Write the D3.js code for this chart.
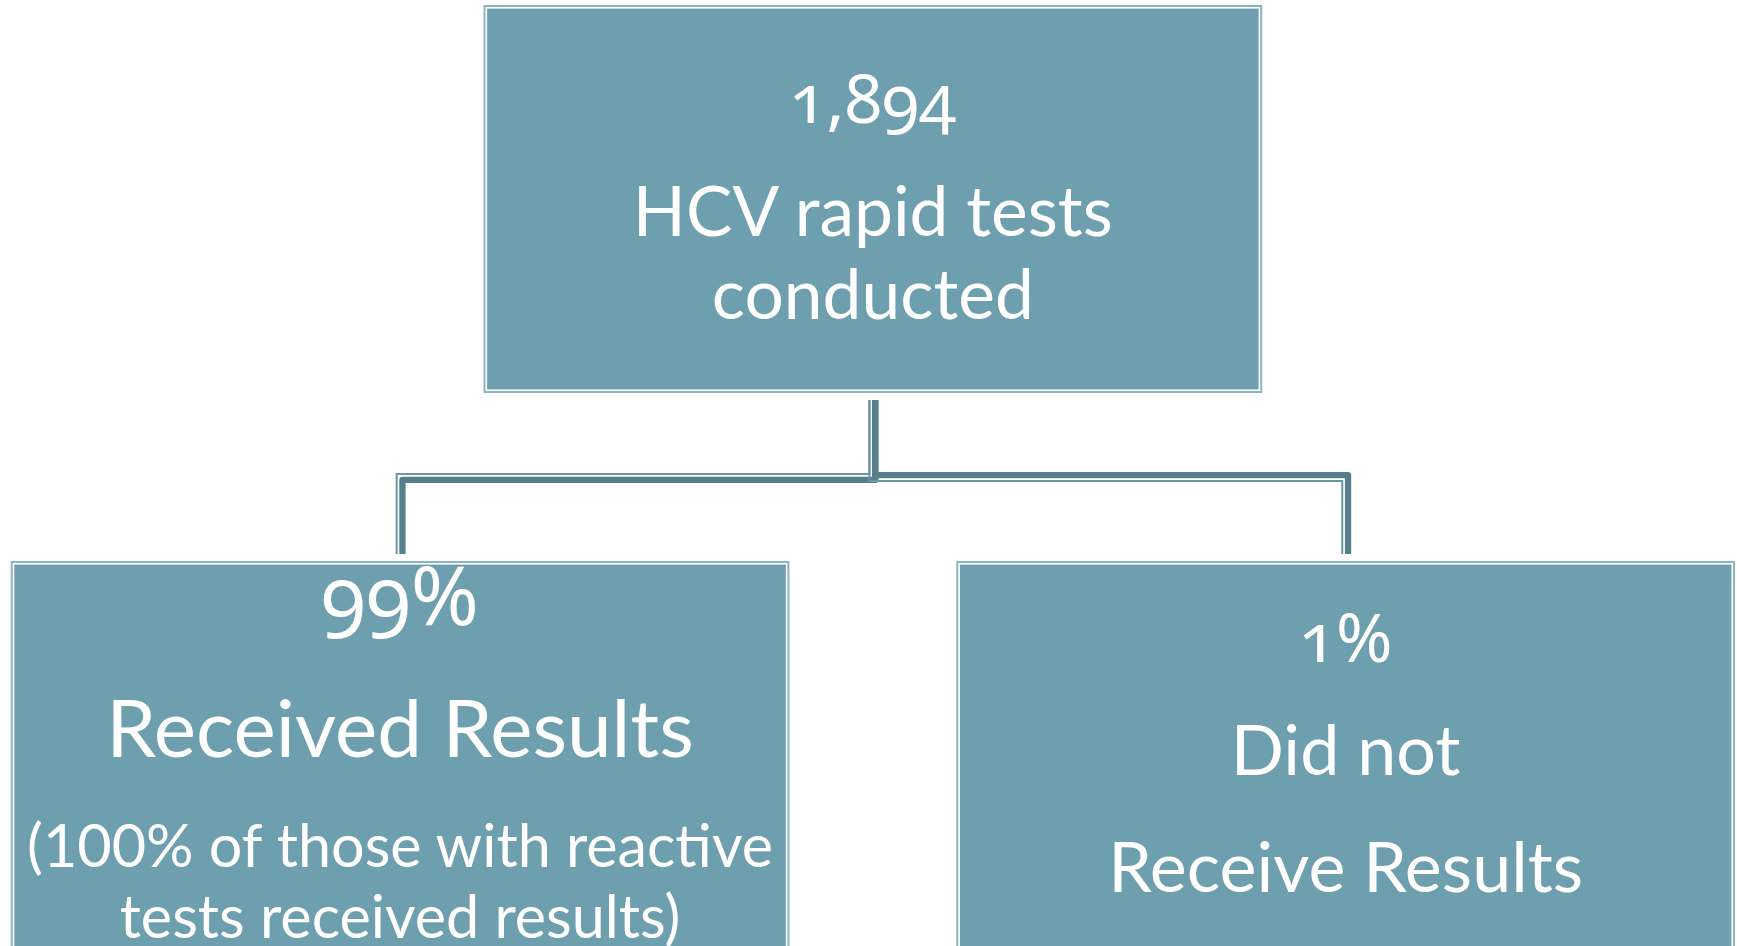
<!DOCTYPE html>
<html>
<head>
<meta charset="utf-8">
<script src="https://cdn.jsdelivr.net/npm/d3@7"></script>
<style>
  html, body { margin: 0; padding: 0; background: #fff; overflow: hidden; }
  svg { display: block; }
  text { font-family: Lato, "Open Sans", sans-serif; fill: #fff; }
  text.head { font-family: "Noto Sans", Lato, sans-serif; font-feature-settings: "onum" 1; font-variant-numeric: oldstyle-nums; }
</style>
</head>
<body>
<svg id="chart"></svg>
<script>
// org chart data
const nodeIds = ["root", "received", "notReceived"];
const parentIds = [null, "root", "root"];
const headlines = ["1,894", "99%", "1%"];
const titles = [["HCV rapid tests", "conducted"], ["Received Results"], ["Did not", "Receive Results"]];
const notes = [[], ["(100% of those with reactive", "tests received results)"], []];

const width = 1737;
const height = 946;
const fill = "#6e9fae";
const edge = "#8ab5c3";
const thick = "#567f8b";
const thin = "#6a95a3";

// text layout per node: [baseline offset from box top, font size]
const headStyle = [[118, 68], [64, 82], [101, 68]];
const titleStyle = [[231, 83, 69.5], [196, 0, 80], [214, 117, 70]];
const noteStyle = [[0, 0, 0], [306, 71, 59.3], [0, 0, 0]];

const svg = d3.select("#chart").attr("width", width).attr("height", height);

const root = d3.stratify()
  .id((d, i) => nodeIds[i])
  .parentId((d, i) => parentIds[i])(nodeIds.map((id, i) => ({ i })));

const leaves = root.leaves();
const x = d3.scaleBand()
  .domain(leaves.map(d => d.id))
  .range([10.7, 1735])
  .paddingInner(0.1765)
  .paddingOuter(0);

const level = d3.scaleOrdinal().domain([0, 1]).range([5, 561]);
const boxH = d3.scaleOrdinal().domain([0, 1]).range([388, 420]);
const boxW = x.bandwidth();

root.each(d => {
  if (d.children) d.cx = d3.mean(d.children, c => x(c.id) + boxW / 2);
  else d.cx = x(d.id) + boxW / 2;
  d.x0 = d.cx - boxW / 2;
  d.y0 = level(d.depth);
  d.h = boxH(d.depth);
});

// connectors: compound line, thin on the right of travel, thick on the left
const busY = 477.5;
function offsetPts(pts, dist) {
  const dirs = d3.pairs(pts).map(([a, b]) => {
    const dx = Math.sign(b[0] - a[0]), dy = Math.sign(b[1] - a[1]);
    return [-dy, dx];
  });
  return pts.map((p, i) => {
    const n1 = dirs[Math.max(0, i - 1)];
    const n2 = dirs[Math.min(dirs.length - 1, i)];
    const n = i === 0 ? n2 : i === pts.length - 1 ? n1 : [n1[0] + n2[0], n1[1] + n2[1]];
    return [p[0] + n[0] * dist, p[1] + n[1] * dist];
  });
}
const line = d3.line();
const links = svg.append("g").attr("fill", "none");
root.links().forEach(({ source, target }) => {
  const pts = [
    [source.cx, source.y0 + source.h + 7],
    [source.cx, busY],
    [target.cx, busY],
    [target.cx, target.y0 - 7]
  ];
  links.append("path")
    .attr("d", line(offsetPts(pts, -2.4)))
    .attr("stroke", thick)
    .attr("stroke-width", 6.3)
    .attr("stroke-linejoin", "round");
  links.append("path")
    .attr("d", line(offsetPts(pts, 3.4)))
    .attr("stroke", thin)
    .attr("stroke-width", 2);
});

// boxes
const node = svg.append("g").selectAll("g")
  .data(root.descendants())
  .join("g")
  .attr("transform", d => `translate(${d.x0},${d.y0})`);

node.append("rect")
  .attr("x", 1).attr("y", 1)
  .attr("width", boxW - 2).attr("height", d => d.h - 2)
  .attr("fill", "#fff")
  .attr("stroke", edge)
  .attr("stroke-width", 2);

node.append("rect")
  .attr("x", 3.6).attr("y", 3.6)
  .attr("width", boxW - 7.2).attr("height", d => d.h - 7.2)
  .attr("fill", fill);

node.append("text")
  .attr("class", "head")
  .attr("text-anchor", "middle")
  .attr("x", boxW / 2)
  .attr("y", d => headStyle[d.data.i][0])
  .style("font-size", d => headStyle[d.data.i][1] + "px")
  .text(d => headlines[d.data.i]);

node.each(function (d) {
  const g = d3.select(this);
  const i = d.data.i;
  titles[i].forEach((t, k) => {
    g.append("text")
      .attr("text-anchor", "middle")
      .attr("x", boxW / 2)
      .attr("y", titleStyle[i][0] + k * titleStyle[i][1])
      .style("font-size", titleStyle[i][2] + "px")
      .text(t);
  });
  notes[i].forEach((t, k) => {
    g.append("text")
      .attr("text-anchor", "middle")
      .attr("x", boxW / 2)
      .attr("y", noteStyle[i][0] + k * noteStyle[i][1])
      .style("font-size", noteStyle[i][2] + "px")
      .text(t);
  });
});
</script>
</body>
</html>
